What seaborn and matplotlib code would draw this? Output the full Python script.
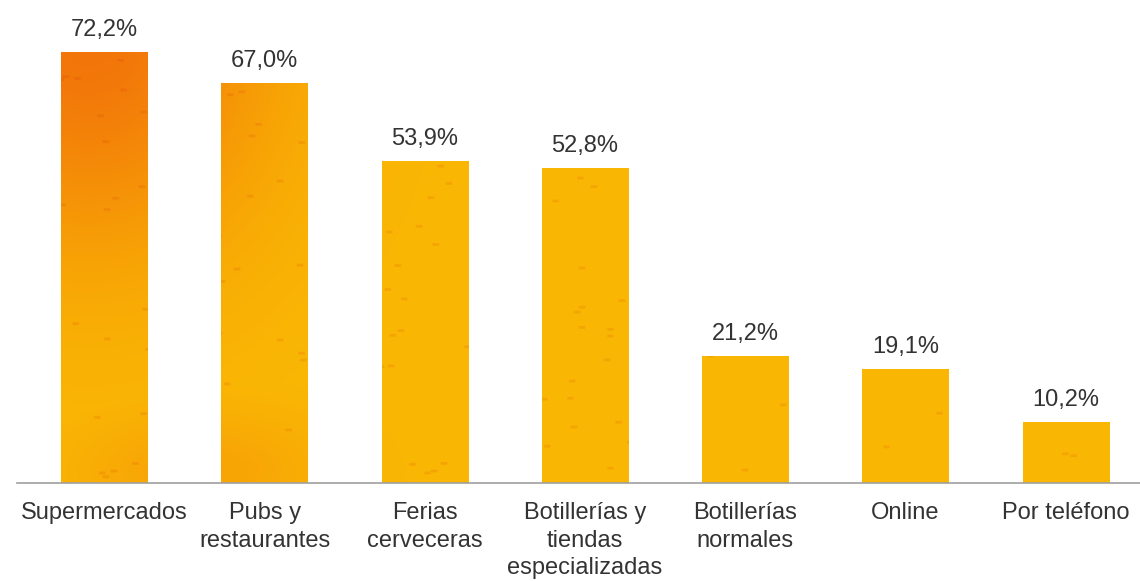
import numpy as np
import pandas as pd
import matplotlib
matplotlib.use("Agg")
import matplotlib.pyplot as plt
import seaborn as sns

categories = [
    "Supermercados",
    "Pubs y\nrestaurantes",
    "Ferias\ncerveceras",
    "Botillerías y\ntiendas\nespecializadas",
    "Botillerías\nnormales",
    "Online",
    "Por teléfono",
]
values = [72.2, 67.0, 53.9, 52.8, 21.2, 19.1, 10.2]
value_labels = ["72,2%", "67,0%", "53,9%", "52,8%", "21,2%", "19,1%", "10,2%"]

sns.set_theme(style="white")
plt.rcParams["font.family"] = ["Liberation Sans", "DejaVu Sans"]

df = pd.DataFrame({"canal": categories, "pct": values})

W, H = 1140, 581
fig = plt.figure(figsize=(W / 100, H / 100), dpi=100)
ax = fig.add_axes([17 / W, (H - 483) / H, (W - 17) / W, 483 / H])

sns.barplot(data=df, x="canal", y="pct", color="#F9B200", width=0.54,
            saturation=1, ax=ax)

ax.set_xlim(-0.545, 6.463)
ax.set_ylim(0, 80.9)

# Beer-like colour field: deep orange near the top of the first bar,
# fading into a warm amber everywhere else.
nx, ny = 700, 500
gx = np.linspace(-0.6, 6.6, nx)
gy = np.linspace(0, 80, ny)
X, Y = np.meshgrid(gx, gy)
d = np.sqrt(((X + 0.1) / 1.25) ** 2 + ((Y - 76) / 40) ** 2)
w = np.clip(np.exp(-d ** 2 * 1.2), 0, 1)
w2 = np.clip(np.exp(-(((X - 0.6) / 0.8) ** 2 + ((Y - 2) / 10) ** 2)), 0, 1) * 0.3
w = np.maximum(w, w2)
base = np.array([0.980, 0.720, 0.015])
orange = np.array([0.950, 0.455, 0.040])
img = base[None, None, :] * (1 - w[..., None]) + orange[None, None, :] * w[..., None]

# faint droplets as small darker specks
sx = (np.sin(np.arange(320) * 12.9898) * 43758.5453) % 1
sy = (np.sin(np.arange(320) * 78.233) * 12345.678) % 1
for px, py in zip(sx, sy):
    cx = int(px * (nx - 6)) + 3
    cy = int(py * (ny - 6)) + 3
    img[cy - 1:cy + 2, cx - 2:cx + 2] *= np.array([0.98, 0.90, 0.85])

for patch in ax.patches:
    im = ax.imshow(img, extent=(gx[0], gx[-1], gy[0], gy[-1]), origin="lower",
                   aspect="auto", interpolation="bilinear",
                   zorder=patch.get_zorder() + 0.1)
    im.set_clip_path(patch)

for i, (v, lab) in enumerate(zip(values, value_labels)):
    ax.annotate(lab, xy=(i, v), xytext=(0, 8), textcoords="offset points",
                ha="center", va="bottom", fontsize=17, color="#333333")

for s in ["top", "right", "left"]:
    ax.spines[s].set_visible(False)
ax.spines["bottom"].set_color("#a0a0a0")
ax.spines["bottom"].set_linewidth(1.2)
ax.set_yticks([])
ax.set_xlabel("")
ax.set_ylabel("")
ax.tick_params(axis="x", length=0, pad=14, labelsize=17, labelcolor="#333333")
for t in ax.get_xticklabels():
    t.set_linespacing(1.3)

fig.savefig("out.png", dpi=100, facecolor="white")
